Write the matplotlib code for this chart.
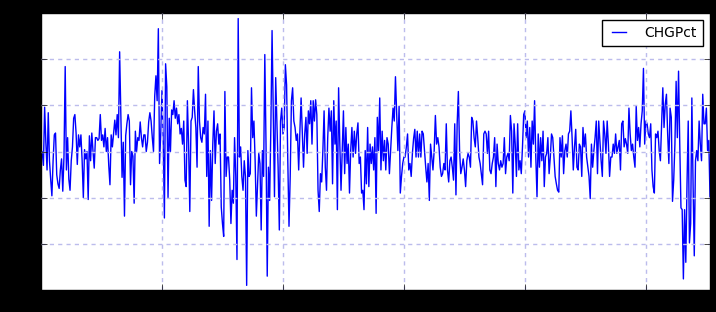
import numpy as np
import matplotlib
matplotlib.use('Agg')
import matplotlib.pyplot as plt

# weekly CHGPct values (in thousandths)
seg1 = [-5, 0, -15, 48, 10, -20, 42, -10, -30, -48,
        -10, 18, 20, -25, -35, -40, -20, -8, -43, -5,
        92, -20, 15, -30, -42, -10, 5, 36, 40, 20,
        -14, 18, 5, 18, -10, -50, 2, -8, 0, -52,
        17, -10, 20, 0, -18, 15, 15, 12, 14, 40,
        12, 18, 5, 25, 0, 15, -15, -36, 18, 5,
        20, 34, 18, 40, 15, 108, 42, -28, 10, -70,
        17, 30, 40, 33, -36, 0, -5, -56, 22, 0,
        15, 12, 32, 15, 5, 18, 18, 0, 10, 32,
        42, 33, 15, 0, 60, 82, 55, 133, -13, 20,
        66, 15, -72, 95, 70, -50, 36, 0, 45, 40,
        55, 36]
seg2 = [47, 30, 40, 19, 25, 8, 33, -31, -38, 55,
        8, -65, 33, 37, 67, 44, 26, -17, 92, 33,
        15, 10, 26, 19, 62, -27, 33, -81, 1, -53,
        8, 44, -13, 22, 30, 8, 19, -60, -78, -92,
        65, -27, -6, -6, -31, -78, -42, -56, 15, -27,
        -117, 144, -6, 5, -27, -42, -10, -27, -145, 1,
        -27, -24, 69, 15, 33, -10, -70, -35, -2, -13,
        -85, 1, -27, 105, 8, -135, -17, -53, 26, 131,
        44, -49, 80, 33, -17, -85, 33, 47, 19, 26,
        94, 72, -10, -81, -27, 55, 69, 33, 26, 12,
        19, -20, 22, 58, 22, -17, 19, 37, -2, 44]
seg3 = [30, 55, 8, 55, 33, 56, 40, -42, -65, -24,
        -33, 1, 44, -17, -42, 15, 47, 22, 44, -35,
        55, 8, 33, -63, 69, 8, -42, 1, 44, -24,
        26, -13, 8, -45, 1, 26, -6, 22, -2,
        19, 31, -13, -6, -45, -42, -63, 1, -35, 26,
        -38, 8, -13, 5, -20, 15, -67, 37, 1, 58,
        -20, 22, -10, 12, -20, 15, 8, -24, 1, 26,
        47, 33, 81, 40, 1, 49, -45, -27, -13, -6,
        -6, 5, 19, -20, -13, -27, -2, 14,
        24, -6, 22, -6, 19, -6, 22, 19,
        1, -17, -33, -13, -53, 8, -6, -20,
        1, 39, 8, 15, 5, -17, -27, -24]
seg4 = [-13, -20, 30, -20, -33, -10, -6, -17, -31, 30,
        -47, 30, 65, 1, -24, -17, -8, -20, -38, -10,
        -2, -6, -17, 37, 33, 15, 5, 33, 15,
        -6, -13, -24, -36, 19, 22, 19, -2, 22, -20,
        -24, -13, -6, 15, -38, 8, -13, -20, -10,
        -17, -13, 15, -24, -6, -2, -10, 39, 22,
        -45, 30, 8, -27, 30, -20, -10, -24, 5,
        40, 44, 15, 33, -6, 26, -17, 33, 8,
        55, -6, -49, 19, -17, 15, -10, 22, -38, -6,
        -2, 15, -24, -6, 19, 15, -6, -27, -35,
        -42, -44, 15, -6, 17, -24, 1, 8, -6,
        19, 22, 44, 15, -20, 5, 24, -17]
seg5 = [-20, 8, 5, -27, 26, 5, 19, -6, -17, -27,
        -51, 8, -17, 1, 15, 33, -24, 33,
        12, -10, -27, 33, 19, -2, 33, 8,
        -27, -6, -6, 8, -2, 19, -2,
        5, 12, -20, 30, 33, 5, 14, 8,
        -2, 47, 19, 1, 8, -6, -17,
        49, 12, 26, 5, 30, 44, 90, 8, 33, 30,
        19, 15, 30, -20, -38, -45, 19, 15, 22,
        1, -10, 30, 69, 26, 51, 62, 19, -13, 47,
        37, -54, -31, 8, 76, 15, 87, 8, -61, -63,
        -138, -63, -120, -35, 33, -99, -78, 58, -35, -113,
        -10, 1, -10, 33, 8, -10, 62, 30,
        30, 47, 1, 12, -49]

chg_pct = np.array(seg1 + seg2 + seg3 + seg4 + seg5) / 1000.0

tick_labels = ['20050107', '20070119', '20090109', '20101224', '20121214', '20141121']

plt.style.use('classic')
plt.rcParams['figure.facecolor'] = 'black'
plt.rcParams['savefig.facecolor'] = 'black'

fig = plt.figure(figsize=(7.16, 3.12), dpi=100)
ax = fig.add_axes([41 / 716, 22 / 312, 669 / 716, 277 / 312])

x = np.arange(len(chg_pct))
ax.plot(x, chg_pct, color='b', lw=1, label='CHGPct')

ax.set_xlim(0, len(chg_pct) - 1)
ax.set_ylim(-0.15, 0.15)
ax.set_yticks(np.arange(-0.15, 0.151, 0.05))
ax.set_xticks(np.arange(0, 100 * len(tick_labels), 100))
ax.set_xticklabels(tick_labels)
ax.grid(True, color='#bcbcec', linestyle=(0, (3, 3)), lw=1)

# the grid lines that sit on the frame are not seen in the original
ax.get_xgridlines()[0].set_visible(False)
ax.get_ygridlines()[0].set_visible(False)
ax.get_ygridlines()[-1].set_visible(False)

ax.legend(loc='upper right', fontsize=10, handlelength=1.6,
          handletextpad=1.0, borderpad=0.45)

fig.savefig('out.png', dpi=100, facecolor='black')
